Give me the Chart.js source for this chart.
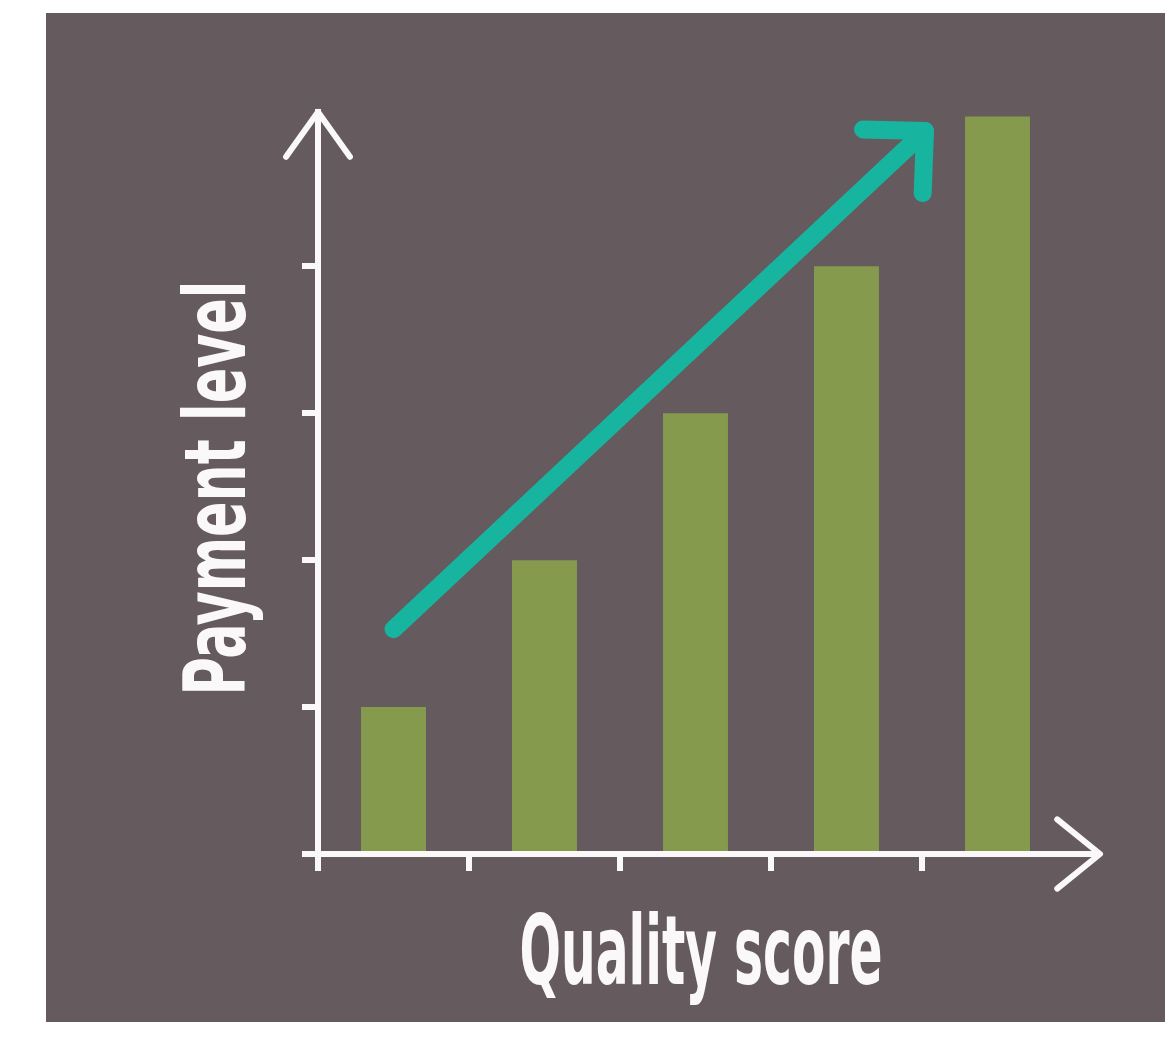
<!DOCTYPE html>
<html lang="en">
<head>
    <meta charset="UTF-8">
    <title>Payment level vs Quality score</title>
    <script src="https://cdn.jsdelivr.net/npm/chart.js"></script>
    <style>
        html, body { margin: 0; padding: 0; background: #ffffff; }
        .panel {
            position: absolute;
            left: 46px;
            top: 13px;
            width: 1119px;
            height: 1009px;
            background: #655a5d;
        }
    </style>
</head>
<body>
    <div class="panel">
        <canvas id="payChart" width="1119" height="1009"></canvas>
    </div>

    <script>
        // data
        const categories = ['1', '2', '3', '4', '5'];
        const paymentLevels = [1, 2, 3, 4, 5.02];
        const yTickValues = [1, 2, 3, 4];
        // teal trend arrow, in data units (x = category index)
        const trendX = [0, 3.52];
        const trendY = [1.53, 4.92];

        const WHITE = '#fbf8f9';
        const TEAL = '#17b5a0';

        // axis titles drawn squeezed, like the condensed poster lettering
        const squeezedTitles = {
            id: 'squeezedTitles',
            afterDraw(chart) {
                const ctx = chart.ctx;
                const xt = chart.options.scales.x.title;
                const yt = chart.options.scales.y.title;

                ctx.save();
                ctx.fillStyle = WHITE;
                ctx.textAlign = 'center';
                ctx.textBaseline = 'alphabetic';

                // x title
                ctx.font = 'bold 96px "Liberation Sans Narrow", "DejaVu Sans Condensed", sans-serif';
                let w = ctx.measureText(xt.text).width;
                let sx = 363 / w;
                ctx.save();
                ctx.translate(701 - 46, 984 - 13);
                ctx.scale(sx, 1);
                ctx.fillText(xt.text, 0, 0);
                ctx.restore();

                // y title (rotated)
                ctx.font = 'bold 86px "Liberation Sans Narrow", "DejaVu Sans Condensed", sans-serif';
                w = ctx.measureText(yt.text).width;
                sx = 415 / w;
                ctx.save();
                ctx.translate(245 - 46, 488 - 13);
                ctx.rotate(-Math.PI / 2);
                ctx.scale(sx, 1);
                ctx.fillText(yt.text, 0, 0);
                ctx.restore();

                ctx.restore();
            }
        };

        function chevron(ctx, tipX, tipY, angle, len, spread, width, color) {
            ctx.save();
            ctx.strokeStyle = color;
            ctx.lineWidth = width;
            ctx.lineCap = 'round';
            ctx.lineJoin = 'round';
            ctx.beginPath();
            ctx.moveTo(tipX - len * Math.cos(angle - spread), tipY - len * Math.sin(angle - spread));
            ctx.lineTo(tipX, tipY);
            ctx.lineTo(tipX - len * Math.cos(angle + spread), tipY - len * Math.sin(angle + spread));
            ctx.stroke();
            ctx.restore();
        }

        // axis extensions + arrow heads
        const arrows = {
            id: 'arrows',
            afterDatasetsDraw(chart) {
                const ctx = chart.ctx;
                const area = chart.chartArea;

                ctx.save();
                ctx.strokeStyle = WHITE;
                ctx.lineWidth = 6;
                ctx.beginPath();
                ctx.moveTo(area.right - 2, area.bottom);
                ctx.lineTo(area.right + 27, area.bottom);
                ctx.stroke();
                ctx.restore();

                chevron(ctx, area.left, area.top, -Math.PI / 2, 55, 0.62, 6, WHITE);
                chevron(ctx, area.right + 27, area.bottom, 0, 55, 0.68, 6, WHITE);

                // teal arrow head at the end of the trend line
                const meta = chart.getDatasetMeta(1);
                const p0 = meta.data[0], p1 = meta.data[1];
                const ang = Math.atan2(p1.y - p0.y, p1.x - p0.x);
                chevron(ctx, p1.x, p1.y, ang, 62, 0.78, 18, TEAL);
            }
        };

        const ctx = document.getElementById('payChart').getContext('2d');
        new Chart(ctx, {
            type: 'bar',
            data: {
                labels: categories,
                datasets: [{
                    type: 'bar',
                    label: 'Payment level',
                    data: paymentLevels,
                    backgroundColor: '#869a4e',
                    borderWidth: 0,
                    grouped: false,
                    barPercentage: 0.43,
                    categoryPercentage: 1.0,
                    order: 2
                }, {
                    type: 'line',
                    label: 'Trend',
                    data: trendX.map((x, i) => ({ x: x, y: trendY[i] })),
                    xAxisID: 'xt',
                    borderColor: TEAL,
                    borderWidth: 18,
                    borderCapStyle: 'round',
                    pointRadius: 0,
                    fill: false,
                    order: 1
                }]
            },
            options: {
                responsive: false,
                animation: false,
                events: [],
                layout: { padding: { left: 256, right: 92, top: 99, bottom: 151 } },
                plugins: {
                    legend: { display: false },
                    tooltip: { enabled: false }
                },
                scales: {
                    x: {
                        type: 'category',
                        offset: true,
                        grid: {
                            offset: true,
                            drawOnChartArea: false,
                            drawTicks: true,
                            tickLength: 17,
                            lineWidth: 6,
                            color: (c) => (c.index !== undefined && c.type === 'tick') ? WHITE : 'rgba(0,0,0,0)'
                        },
                        border: { display: true, color: WHITE, width: 6 },
                        ticks: { display: false },
                        title: { display: false, text: 'Quality score' }
                    },
                    xt: {
                        type: 'linear',
                        display: false,
                        offset: false,
                        grid: { offset: false },
                        min: -0.5,
                        max: 4.5
                    },
                    y: {
                        type: 'linear',
                        min: 0,
                        max: 5.05,
                        afterBuildTicks: (scale) => {
                            scale.ticks = [0].concat(yTickValues).map(v => ({ value: v }));
                        },
                        grid: {
                            drawOnChartArea: false,
                            drawTicks: true,
                            tickLength: 16,
                            lineWidth: 6,
                            color: WHITE
                        },
                        border: { display: true, color: WHITE, width: 6 },
                        ticks: { display: false },
                        title: { display: false, text: 'Payment level' }
                    }
                }
            },
            plugins: [squeezedTitles, arrows]
        });
    </script>
</body>
</html>
